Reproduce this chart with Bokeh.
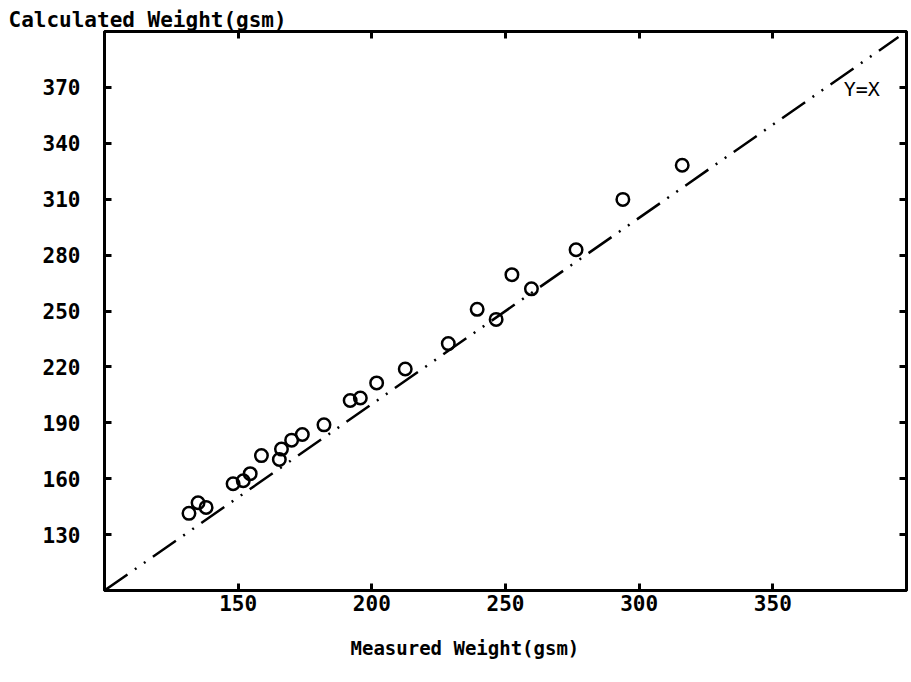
from bokeh.plotting import figure
from bokeh.models import LinearAxis, FixedTicker, Range1d, Label, Title
from bokeh.embed import file_html
from bokeh.resources import INLINE

# Measured vs calculated fabric weight, g/m²
measured = [131.6, 135.0, 138.0, 148.1, 151.9, 154.5, 158.7, 165.4, 166.2, 170.0,
            174.0, 182.1, 191.9, 195.7, 201.8, 212.5, 228.6, 239.4, 246.5, 252.4,
            259.7, 276.4, 293.9, 316.1]
calculated = [141.4, 147.1, 144.6, 157.3, 158.9, 162.7, 172.4, 170.3, 175.9, 180.7,
              183.7, 188.9, 202.0, 203.3, 211.4, 218.9, 232.5, 250.9, 245.5, 269.5,
              261.9, 282.9, 309.9, 328.2]

# Reference line Y = X
identity = [100, 397]

x_ticks = [150, 200, 250, 300, 350]
y_ticks = [130, 160, 190, 220, 250, 280, 310, 340, 370]

FONT = "DejaVu Sans Mono"

p = figure(width=911, height=682, output_backend="svg", toolbar_location=None,
           x_range=Range1d(100, 400), y_range=Range1d(100, 400),
           min_border_left=104, min_border_right=5, min_border_top=31,
           min_border_bottom=92)
p.grid.visible = False
p.background_fill_color = "white"
p.border_fill_color = "white"
p.outline_line_color = "black"
p.outline_line_width = 3

# Y axis title, set at the top left corner
p.title.text = "Calculated Weight(gsm)"
p.title.align = "left"
p.title.offset = -96
p.title.standoff = 0
p.title.text_font = FONT
p.title.text_font_style = "bold"
p.title.text_font_size = "21px"
p.title.text_color = "black"


def style_axis(ax, ticks, show_labels=True):
    ax.ticker = FixedTicker(ticks=ticks)
    ax.axis_line_color = "black"
    ax.axis_line_width = 3
    ax.major_tick_in = 7
    ax.major_tick_out = 0
    ax.major_tick_line_width = 3
    ax.minor_tick_line_color = None
    ax.major_label_text_font = FONT
    ax.major_label_text_font_style = "bold"
    ax.major_label_text_font_size = "21px"
    ax.major_label_text_color = "black"
    if not show_labels:
        ax.major_label_overrides = {t: "" for t in ticks}
        ax.major_label_standoff = 0


style_axis(p.xaxis[0], x_ticks)
p.xaxis[0].major_label_standoff = 4
style_axis(p.yaxis[0], y_ticks)
p.yaxis[0].major_label_standoff = 24

top = LinearAxis()
style_axis(top, x_ticks, show_labels=False)
p.add_layout(top, "above")
right = LinearAxis()
style_axis(right, y_ticks, show_labels=False)
p.add_layout(right, "right")

# X axis title below the tick labels
p.add_layout(Title(text="Measured Weight(gsm)", align="left", offset=246,
                   standoff=42, text_font=FONT, text_font_style="bold",
                   text_font_size="19px", text_color="black"), "below")

p.line(identity, identity, line_color="black", line_width=2.5,
       line_dash="28 9 2 9 2 9")
p.scatter(measured, calculated, marker="circle", size=12.5, fill_color=None,
          line_color="black", line_width=2.5)

p.add_layout(Label(x=376.5, y=369, text="Y=X",
                   text_font=FONT, text_font_size="20px",
                   text_color="black", text_baseline="alphabetic"))

open("out.html", "w").write(file_html(p, INLINE))
